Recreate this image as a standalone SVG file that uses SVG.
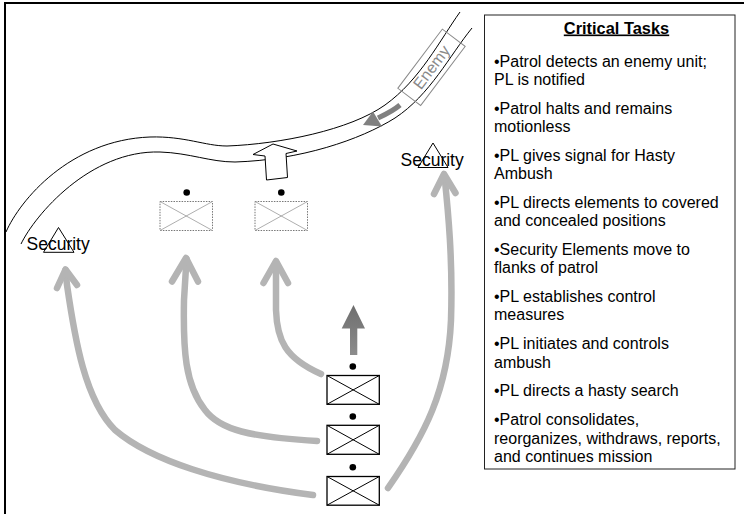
<svg xmlns="http://www.w3.org/2000/svg" width="744" height="514" viewBox="0 0 744 514">
<style>
.road{fill:none;stroke:#000;stroke-width:1}
.lbl{font-family:"Liberation Sans",Arial,sans-serif;font-size:17.5px;fill:#000}
.tri{fill:none;stroke:#000;stroke-width:1}
.dbox{fill:none;stroke:#777;stroke-width:1;stroke-dasharray:1.5 1.2}
.dx{stroke:#999;stroke-width:0.8}
.sbox{fill:#fff;stroke:#000;stroke-width:1.3}
.sx{stroke:#000;stroke-width:1}
.dot{fill:#000}
.mv{fill:none;stroke:#b4b4b4;stroke-width:6.5;stroke-linecap:round;stroke-linejoin:round}
.task{font-family:"Liberation Sans",Arial,sans-serif;font-size:16px;fill:#000}
</style>
<defs>
<linearGradient id="gup" x1="0" y1="0" x2="0" y2="1">
<stop offset="0" stop-color="#6e6e6e"/>
<stop offset="1" stop-color="#8c8c8c"/>
</linearGradient>
</defs>
<rect width="744" height="514" fill="#fff"/>
<g id="frame" stroke="#000" stroke-width="2">
<line x1="5" y1="2" x2="5" y2="514"/>
<line x1="4" y1="2.9" x2="744" y2="2.9"/>
</g>
<g id="road">
<path class="road" d="M6,232 C20,200 70,140 150,137 C185,136 205,146 227,146 C280,144 350,130 385,105 C420,80 440,40 460,12"/>
<path class="road" d="M21,244 C35,215 90,150 160,152 C190,153 210,162 235,162 C300,160 360,140 395,118 C430,95 450,55 472,28"/>
</g>
<g id="enemy">
<g transform="translate(431.5,67.3) rotate(-53)">
<rect x="-37" y="-14.3" width="74" height="28.6" fill="none" stroke="#8a8a8a" stroke-width="1"/>
<text x="0" y="5.5" text-anchor="middle" font-family="'Liberation Sans',Arial,sans-serif" font-size="16" fill="#8a8a8a">Enemy</text>
</g>
<path d="M400,105 Q393,111 378,118" fill="none" stroke="#808080" stroke-width="5"/>
<polygon points="363,125 373,111.5 382,126.5" fill="#808080"/>
</g>
<g id="security-right">
<polygon class="tri" points="433,143 418,167.5 448,167.5"/>
<text class="lbl" x="400.5" y="165.5">Security</text>
</g>
<g id="security-left">
<polygon class="tri" points="58.5,227.5 43.5,252.3 74,252.3"/>
<text class="lbl" x="26.5" y="250">Security</text>
</g>
<g id="unit-left-dotted">
<circle class="dot" cx="186.7" cy="192.5" r="3.3"/>
<rect class="dbox" x="160" y="201.5" width="52.5" height="29"/>
<line class="dx" x1="160" y1="201.5" x2="212.5" y2="230.5"/>
<line class="dx" x1="212.5" y1="201.5" x2="160" y2="230.5"/>
</g>
<g id="unit-right-dotted">
<circle class="dot" cx="281.3" cy="192.5" r="3.3"/>
<rect class="dbox" x="255" y="201.5" width="52.5" height="29"/>
<line class="dx" x1="255" y1="201.5" x2="307.5" y2="230.5"/>
<line class="dx" x1="307.5" y1="201.5" x2="255" y2="230.5"/>
</g>
<g id="assault-arrow">
<polygon points="253,154.5 273,144 297,151 286,153.5 287.5,177.5 266.5,180 265,156" fill="#fff" stroke="#000" stroke-width="1"/>
</g>
<g id="connectors">
<path class="mv" d="M313,495 C220,483 150,460 115,430 C85,400 75,340 67,285 L65.5,270"/>
<polyline class="mv" points="57,288 65.5,269.5 77,285"/>
<path class="mv" d="M317,441 C250,437 220,430 205,410 C185,385 183,350 184,300 L186.5,259"/>
<polyline class="mv" points="172,281.5 186,258 198,281.5"/>
<path class="mv" d="M321,374 C285,358 277,340 276,310 L276,263"/>
<polyline class="mv" points="263.5,283 276,261 288,283"/>
<path class="mv" d="M388,488 C425,435 448,390 451,320 C453,260 448,210 444.5,176"/>
<polyline class="mv" points="434,194 444,174 455.5,193"/>
<polygon points="350,355 357.3,355 357.3,328.5 365,328.5 353.5,305 341.7,328.5 350,328.5" fill="url(#gup)"/>
</g>
<g id="unit-1">
<circle class="dot" cx="352.8" cy="366.5" r="3.3"/>
<rect class="sbox" x="327" y="375.5" width="52.3" height="28.8"/>
<line class="sx" x1="327" y1="375.5" x2="379.3" y2="404.3"/>
<line class="sx" x1="379.3" y1="375.5" x2="327" y2="404.3"/>
</g>
<g id="unit-2">
<circle class="dot" cx="352.8" cy="416.5" r="3.3"/>
<rect class="sbox" x="327" y="425.3" width="52.3" height="29"/>
<line class="sx" x1="327" y1="425.3" x2="379.3" y2="454.3"/>
<line class="sx" x1="379.3" y1="425.3" x2="327" y2="454.3"/>
</g>
<g id="unit-3">
<circle class="dot" cx="352.8" cy="467.3" r="3.3"/>
<rect class="sbox" x="327" y="476.5" width="52.3" height="28.7"/>
<line class="sx" x1="327" y1="476.5" x2="379.3" y2="505.2"/>
<line class="sx" x1="379.3" y1="476.5" x2="327" y2="505.2"/>
</g>
<g id="critical-tasks">
<rect x="484.5" y="15" width="250.5" height="454" fill="#fff" stroke="#222" stroke-width="1"/>
<text x="616.5" y="33.5" text-anchor="middle" font-family="'Liberation Sans',Arial,sans-serif" font-size="16.4" font-weight="bold" text-decoration="underline">Critical Tasks</text>
<text class="task">
<tspan x="494" y="66.7">•Patrol detects an enemy unit;</tspan>
<tspan x="494" y="84.9">PL is notified</tspan>
<tspan x="494" y="113.8">•Patrol halts and remains</tspan>
<tspan x="494" y="132">motionless</tspan>
<tspan x="494" y="160.9">•PL gives signal for Hasty</tspan>
<tspan x="494" y="179.1">Ambush</tspan>
<tspan x="494" y="208">•PL directs elements to covered</tspan>
<tspan x="494" y="226.2">and concealed positions</tspan>
<tspan x="494" y="255.1">•Security Elements move to</tspan>
<tspan x="494" y="273.3">flanks of patrol</tspan>
<tspan x="494" y="302.2">•PL establishes control</tspan>
<tspan x="494" y="320.4">measures</tspan>
<tspan x="494" y="349.3">•PL initiates and controls</tspan>
<tspan x="494" y="367.5">ambush</tspan>
<tspan x="494" y="396.4">•PL directs a hasty search</tspan>
<tspan x="494" y="425.3">•Patrol consolidates,</tspan>
<tspan x="494" y="443.5">reorganizes, withdraws, reports,</tspan>
<tspan x="494" y="461.7">and continues mission</tspan>
</text>
</g>
</svg>
